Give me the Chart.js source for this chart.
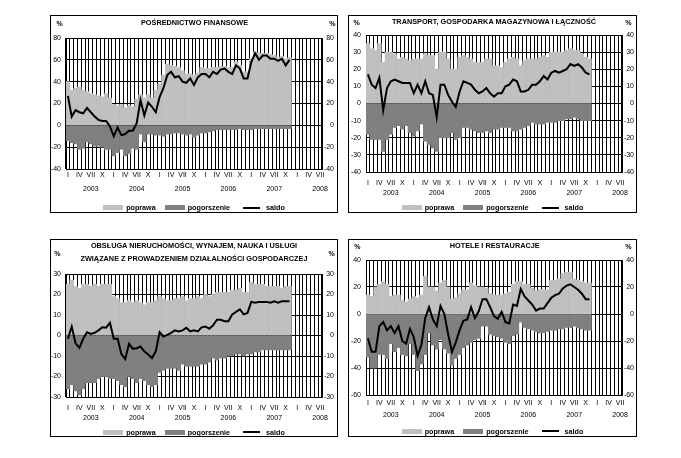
<!DOCTYPE html>
<html><head><meta charset="utf-8">
<script src="https://cdn.jsdelivr.net/npm/chart.js@4.4.0/dist/chart.umd.min.js"></script>
<style>
body{margin:0;background:#fff;width:681px;height:458px;position:relative;overflow:hidden;font-family:"Liberation Sans",Arial,sans-serif;color:#000;}
canvas{position:absolute;}
.frame{position:absolute;border:1px solid #000;box-sizing:border-box;pointer-events:none;}
.txt{position:absolute;white-space:nowrap;transform:translate(-50%,-50%);font-weight:bold;line-height:1;}
.title{font-size:7.3px;}
.pct{font-size:7px;}
.legend{position:absolute;display:flex;justify-content:center;align-items:center;height:10px;font-size:7.2px;font-weight:bold;white-space:nowrap;}
.legend .sw{display:inline-block;width:20px;height:5px;margin-right:3px;}
.legend .ln{display:inline-block;width:17px;height:2px;background:#000;margin-right:6px;}
.legend .gap{display:inline-block;width:9px;}
.legend .gap2{display:inline-block;width:13px;}
</style>
</head><body>
<script>
// ---- categories / tick labels ----
const monthNames = ['I','II','III','IV','V','VI','VII','VIII','IX','X','XI','XII'];
const shownMonths = ['I','IV','VII','X'];
const yearLabels = ['2003','2004','2005','2006','2007','2008'];
const lastMonthOf2008 = 'VII';
const legendLabels = ['poprawa','pogorszenie','saldo'];

// ---- POŚREDNICTWO FINANSOWE ----
const fin_poprawa = [40,32,34,35,32,31,29,28,27,26,29,25, 19,18,19,16,18,17,24,28,25,28,25,32, 38,46,56,55,54,53,50,47,47,46,48,53, 52,52,53,53,54,54,53,53,58,55,49,49, 61,67,66,66,66,65,64,62,63,61,62];
const fin_pogorszenie = [-14,-16,-17,-22,-21,-15,-17,-19,-19,-20,-22,-22, -28,-25,-22,-28,-26,-21,-22,-8,-15,-8,-8,-9, -9,-10,-8,-8,-7,-7,-8,-9,-8,-11,-9,-7, -7,-6,-5,-4,-4,-4,-4,-4,-4,-3,-4,-4, -4,-3,-3,-3,-3,-3,-3,-3,-3,-3,-3];
const fin_saldo = [27,8,14,12,11,16,12,8,5,4,4,-1, -10,-2,-9,-8,-5,-5,2,23,9,21,17,12, 26,34,46,49,44,45,40,39,43,37,44,47, 47,44,49,47,51,52,49,47,55,52,43,43, 58,66,60,64,64,61,61,59,61,55,60];
const fin_yTicks = [-40,-20,0,20,40,60,80];

// ---- TRANSPORT ----
const tr_poprawa = [35,32,31,35,24,30,30,29,26,27,26,25, 26,26,26,29,28,28,20,30,30,26,20,20, 27,28,27,26,24,24,24,26,26,22,22,21, 24,26,27,26,22,25,26,26,26,27,28,27, 30,30,30,30,31,32,31,31,29,27,26];
const tr_pogorszenie = [-18,-21,-21,-21,-28,-21,-18,-14,-13,-15,-13,-17, -19,-16,-12,-22,-24,-26,-28,-20,-20,-20,-17,-21, -20,-14,-14,-15,-16,-17,-17,-16,-17,-15,-15,-14, -14,-14,-16,-16,-15,-14,-13,-11,-12,-12,-12,-11, -11,-11,-10,-10,-9,-9,-8,-9,-10,-10,-10];
const tr_saldo = [17,11,9,15,-4,9,13,14,13,12,12,12, 6,11,6,13,6,5,-8,11,11,5,1,-2, 7,13,12,11,8,6,7,9,6,4,6,6, 10,11,14,13,7,7,8,11,11,13,16,14, 18,19,18,19,20,23,22,23,21,18,17];
const tr_yTicks = [-40,-30,-20,-10,0,10,20,30,40];

// ---- OBSŁUGA NIERUCHOMOŚCI ----
const nier_poprawa = [25,27,24,23,25,25,24,25,24,25,25,25, 19,18,16,16,17,16,17,16,15,16,16,17, 19,18,17,17,18,18,19,17,18,18,19,18, 20,19,20,21,21,21,21,22,22,23,21,21, 26,25,25,25,24,24,24,24,23,24,24];
const nier_pogorszenie = [-26,-24,-27,-29,-26,-23,-23,-23,-21,-20,-20,-21, -21,-22,-24,-25,-20,-21,-23,-21,-22,-24,-25,-24, -18,-17,-16,-16,-16,-17,-14,-15,-15,-15,-15,-14, -14,-13,-11,-12,-11,-11,-10,-10,-9,-9,-10,-9, -9,-8,-8,-7,-7,-7,-7,-7,-7,-7,-7];
const nier_saldo = [-1.6,4.4,-3.8,-6,-1.6,1.6,0.8,1.3,2.5,4,3.8,6.2, -1.6,-1.6,-9,-11.5,-4,-6.5,-6.2,-5.4,-7.7,-9.3,-11,-7.7, 1.6,-0.5,0.3,1.3,2.5,2,2.5,3.8,2,2.5,2,4, 4.4,3.3,5,7.7,7.7,7,7,10.3,11.5,12.8,10.3,11, 16.4,16,16.4,16.4,16.4,16,16.7,16,16.7,16.7,16.7];
const nier_yTicks = [-30,-20,-10,0,10,20,30];

// ---- HOTELE I RESTAURACJE ----
const hot_poprawa = [14,13,20,22,24,22,13,14,14,10,9,11, 13,12,14,28,20,20,17,23,25,20,11,12, 15,18,18,23,21,20,20,19,15,14,14,14, 15,16,22,24,24,22,22,19,17,18,18,18, 25,25,26,30,31,31,26,25,24,23,23];
const hot_pogorszenie = [-32,-40,-40,-30,-30,-33,-22,-28,-25,-30,-31,-22, -30,-42,-37,-30,-14,-23,-26,-19,-26,-29,-38,-33, -30,-25,-23,-21,-19,-18,-9,-9,-15,-16,-17,-18, -21,-22,-16,-15,-6,-10,-11,-12,-13,-14,-14,-13, -12,-12,-11,-11,-10,-10,-9,-10,-11,-12,-12];
const hot_saldo = [-18,-28,-28,-9,-6,-12,-9,-14,-9,-20,-22,-11, -17,-31,-23,-3,5,-4,-9,6,0,-15,-28,-21, -12,-5,-4,5,-3,2,11,11,5,-1.5,-3.5,1.5, -6,-7,7,6,18.5,13,10,7,2.5,4,4,8, 12,14,15,19,21,22,20,18,15,11,11];
const hot_yTicks = [-60,-40,-20,0,20,40];

// build category list (month + year) from the arrays above
const categories = [];
for (const y of yearLabels) {
  for (const m of monthNames) {
    categories.push([m, y]);
    if (y === yearLabels[yearLabels.length - 1] && m === lastMonthOf2008) break;
  }
}

const COLORS = {light:'#c0c0c0', dark:'#808080', line:'#000', grid:'#000'};
const FONT = '"Liberation Sans", Arial, sans-serif';

const panels = [
  {title:['POŚREDNICTWO FINANSOWE'], pop:fin_poprawa, neg:fin_pogorszenie, sal:fin_saldo, yt:fin_yTicks,
   box:[50,15,338,213], plot:[66,38,322,169], titleY:[22.7], titleX:194.5, pctY:22.7, pctL:59.7, pctR:332.3, legY:207.7, gap:6.3, lh:14, padL:5, rInset:4},
  {title:['TRANSPORT, GOSPODARKA MAGAZYNOWA I ŁĄCZNOŚĆ'], pop:tr_poprawa, neg:tr_pogorszenie, sal:tr_saldo, yt:tr_yTicks,
   box:[348,15,637,213], plot:[366,35,622,172], titleY:[21.7], titleX:494, pctY:21.7, pctL:356.7, pctR:628.3, legY:207.7, gap:11, lh:10, padL:5, rInset:3},
  {title:['OBSŁUGA NIERUCHOMOŚCI, WYNAJEM, NAUKA I USŁUGI','ZWIĄZANE Z PROWADZENIEM DZIAŁALNOŚCI GOSPODARCZEJ'], pop:nier_poprawa, neg:nier_pogorszenie, sal:nier_saldo, yt:nier_yTicks,
   box:[50,239,338,437], plot:[66,274,322,397], titleY:[245.7,258.7], titleX:194, pctY:253.3, pctL:57.3, pctR:331.7, legY:432, gap:11.3, lh:9.6, padL:5, rInset:4},
  {title:['HOTELE I RESTAURACJE'], pop:hot_poprawa, neg:hot_pogorszenie, sal:hot_saldo, yt:hot_yTicks,
   box:[348,239,637,437], plot:[366,260,622,395], titleY:[245.7], titleX:494.7, pctY:245.7, pctL:357.3, pctR:628.3, legY:431, gap:8.3, lh:11.7, padL:5, rInset:3}
];

function addText(cls, text, x, y) {
  const d = document.createElement('div');
  d.className = 'txt ' + cls;
  d.textContent = text;
  d.style.left = x + 'px';
  d.style.top = y + 'px';
  document.body.appendChild(d);
}

function addLegend(p) {
  const lg = document.createElement('div');
  lg.className = 'legend';
  lg.style.left = p.box[0] + 'px';
  lg.style.width = (p.box[2] - p.box[0]) + 'px';
  lg.style.top = (p.legY - 5) + 'px';
  lg.innerHTML =
    '<span class="sw" style="background:' + COLORS.light + '"></span><span>' + legendLabels[0] + '</span><span class="gap"></span>' +
    '<span class="sw" style="background:' + COLORS.dark + '"></span><span>' + legendLabels[1] + '</span><span class="gap2"></span>' +
    '<span class="ln"></span><span>' + legendLabels[2] + '</span>';
  document.body.appendChild(lg);
}

function buildPanel(p) {
  const [bx0, by0, bx1, by1] = p.box;
  const [px0, py0, px1, py1] = p.plot;
  const w = bx1 - bx0, h = by1 - by0;
  const cv = document.createElement('canvas');
  cv.width = w; cv.height = h;
  cv.style.left = bx0 + 'px'; cv.style.top = by0 + 'px';
  cv.style.width = w + 'px'; cv.style.height = h + 'px';
  document.body.appendChild(cv);
  const fr = document.createElement('div');
  fr.className = 'frame';
  fr.style.left = bx0 + 'px'; fr.style.top = by0 + 'px';
  fr.style.width = w + 'px'; fr.style.height = h + 'px';
  document.body.appendChild(fr);

  p.title.forEach((t, i) => addText('title', t, p.titleX, p.titleY[i]));
  addText('pct', '%', p.pctL, p.pctY);
  addText('pct', '%', p.pctR, p.pctY);
  addLegend(p);

  const yMin = p.yt[0], yMax = p.yt[p.yt.length - 1], step = p.yt[1] - p.yt[0];
  const leftW = px0 - bx0, rightW = bx1 - px1 - p.rInset, topPad = py0 - by0, xH = by1 - py1;
  const tickFont = {family: FONT, size: 7};

  new Chart(cv, {
    type: 'bar',
    data: {
      labels: categories.map(c => c.join(' ')),
      datasets: [
        {type:'line', label:legendLabels[2], data:p.sal, borderColor:COLORS.line, borderWidth:2, pointRadius:0, tension:0, order:0, yAxisID:'y'},
        {type:'bar', label:legendLabels[0], data:p.pop, backgroundColor:COLORS.light, borderWidth:0, grouped:false, barPercentage:1, categoryPercentage:1, order:1, yAxisID:'y'},
        {type:'bar', label:legendLabels[1], data:p.neg, backgroundColor:COLORS.dark, borderWidth:0, grouped:false, barPercentage:1, categoryPercentage:1, order:2, yAxisID:'y'}
      ]
    },
    options: {
      responsive: false, animation: false, devicePixelRatio: 1,
      layout: {padding: {top: topPad, left: 0, right: p.rInset, bottom: 0}},
      plugins: {legend: {display: false}, tooltip: {enabled: false}, title: {display: false}},
      scales: {
        x: {
          offset: true,
          grid: {color: COLORS.grid, lineWidth: 1, drawTicks: false, offset: true},
          border: {display: true, color: COLORS.grid},
          ticks: {
            autoSkip: false, maxRotation: 0, minRotation: 0, color: '#000',
            padding: p.gap - p.lh / 2,
            font: {family: FONT, size: 7, lineHeight: p.lh + 'px'},
            callback: function(v, i) {
              const c = categories[i];
              if (!c || shownMonths.indexOf(c[0]) < 0) return '';
              return c[0] === 'VII' ? [c[0], c[1]] : c[0];
            }
          },
          afterFit: s => { s.height = xH; s.paddingLeft = 0; s.paddingRight = 0; }
        },
        y: {
          position: 'left', min: yMin, max: yMax,
          grid: {color: COLORS.grid, lineWidth: 1, drawTicks: false},
          border: {display: true, color: COLORS.grid},
          ticks: {stepSize: step, padding: p.padL, color: '#000', font: tickFont},
          afterFit: s => { s.width = leftW; s.paddingTop = 0; s.paddingBottom = 0; }
        },
        y2: {
          position: 'right', min: yMin, max: yMax, display: true,
          grid: {drawOnChartArea: false, drawTicks: false},
          border: {display: true, color: COLORS.grid},
          ticks: {stepSize: step, padding: 4, crossAlign: 'far', color: '#000', font: tickFont},
          afterFit: s => { s.width = rightW; s.paddingTop = 0; s.paddingBottom = 0; }
        }
      }
    }
  });
}

panels.forEach(buildPanel);
</script>
</body></html>
